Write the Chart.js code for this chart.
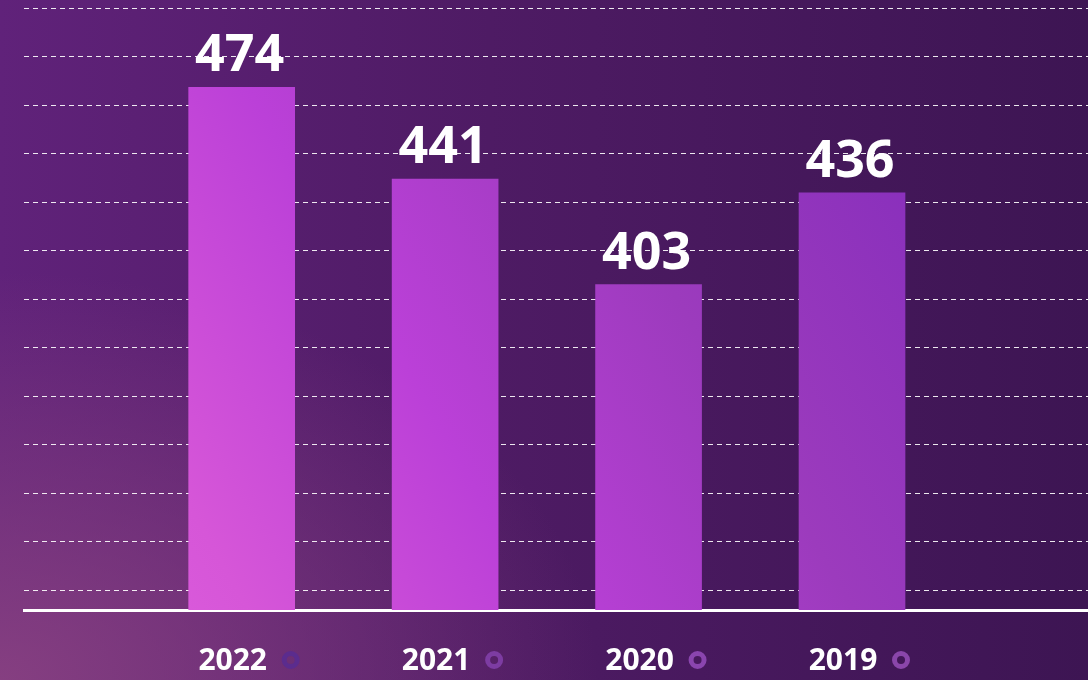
<!DOCTYPE html>
<html>
<head>
<meta charset="utf-8">
<script src="https://cdn.jsdelivr.net/npm/chart.js@4"></script>
<style>
    html, body {
        margin: 0;
        padding: 0;
        width: 1088px;
        height: 680px;
        overflow: hidden;
    }
    body {
        background:
            radial-gradient(ellipse 55% 60% at 0% 100%, rgba(140, 68, 130, 0.85) 0%, rgba(140, 68, 130, 0) 100%),
            linear-gradient(90deg, #60227a 0%, #4e1b64 45%, #3d1553 100%);
    }
    #wrap {
        position: relative;
        width: 1088px;
        height: 680px;
    }
</style>
</head>
<body>
<div id="wrap"><canvas id="chart"></canvas></div>
<script>
// Data
const years = [2022, 2021, 2020, 2019];
const totals = [474, 441, 403, 436];
const iconColors = ['#5b2c8e', '#7d3ca2', '#8a45ae', '#8a46aa'];

Chart.defaults.font.family = "'Open Sans', sans-serif";

const yMin = 286;
const yMax = 502.5;
const gridStep = 17.45;

// Bar fill: diagonal gradient, magenta bottom-left to violet top-right
function barGradient(ctx) {
    const chart = ctx.chart;
    const area = chart.chartArea;
    if (!area) return '#b040d0';
    const g = chart.ctx.createLinearGradient(area.left, area.bottom, area.right, area.top);
    g.addColorStop(0, '#e060e0');
    g.addColorStop(0.16, '#d656d8');
    g.addColorStop(0.37, '#bb40d8');
    g.addColorStop(0.59, '#9c3bbd');
    g.addColorStop(0.8, '#8a30bc');
    g.addColorStop(1, '#7a28b0');
    return g;
}

// Value labels above each bar
const valueLabels = {
    id: 'valueLabels',
    afterDatasetsDraw(chart) {
        const { ctx } = chart;
        const meta = chart.getDatasetMeta(0);
        ctx.save();
        ctx.fillStyle = '#ffffff';
        ctx.font = "700 52px 'Open Sans', sans-serif";
        ctx.textAlign = 'center';
        ctx.textBaseline = 'alphabetic';
        meta.data.forEach((bar, i) => {
            ctx.fillText(String(totals[i]), bar.x - 2, bar.y - 16);
        });
        ctx.restore();
    }
};

// Small ring icon beside each year label
const yearIcons = {
    id: 'yearIcons',
    afterDraw(chart) {
        const { ctx } = chart;
        const xScale = chart.scales.x;
        ctx.save();
        ctx.lineWidth = 5;
        years.forEach((yr, i) => {
            const x = xScale.getPixelForValue(yr) + 49;
            ctx.strokeStyle = iconColors[i];
            ctx.beginPath();
            ctx.arc(x, 660, 6.5, 0, Math.PI * 2);
            ctx.stroke();
        });
        ctx.restore();
    }
};

new Chart(document.getElementById('chart'), {
    type: 'bar',
    data: {
        datasets: [{
            data: years.map((yr, i) => ({ x: yr, y: totals[i] })),
            backgroundColor: barGradient,
            borderWidth: 0,
            barThickness: 106
        }]
    },
    options: {
        responsive: true,
        maintainAspectRatio: false,
        animation: false,
        layout: { padding: { left: 24, right: 0, top: 8, bottom: 0 } },
        plugins: {
            legend: { display: false },
            tooltip: { enabled: false }
        },
        scales: {
            x: {
                type: 'linear',
                reverse: true,
                offset: false,
                min: 2017.84,
                max: 2023.07,
                z: 1,
                afterBuildTicks: (scale) => {
                    scale.ticks = years.map(v => ({ value: v }));
                },
                afterFit: (scale) => { scale.height = 70; },
                grid: { display: false, drawTicks: false, offset: false },
                border: { display: true, color: '#ffffff', width: 3 },
                ticks: {
                    color: '#ffffff',
                    font: { size: 30, weight: '700' },
                    padding: 33,
                    labelOffset: -9,
                    maxRotation: 0,
                    callback: (v) => String(v)
                }
            },
            y: {
                min: yMin,
                max: yMax,
                z: 1,
                afterBuildTicks: (scale) => {
                    const ticks = [];
                    for (let v = yMax; v > yMin + 1; v -= gridStep) ticks.push({ value: v });
                    scale.ticks = ticks;
                },
                afterFit: (scale) => { scale.width = 0; },
                grid: {
                    color: 'rgba(255, 255, 255, 0.9)',
                    lineWidth: 1,
                    drawTicks: false
                },
                border: { display: false, dash: [5, 4] },
                ticks: { display: false }
            }
        }
    },
    plugins: [valueLabels, yearIcons]
});
</script>
</body>
</html>
